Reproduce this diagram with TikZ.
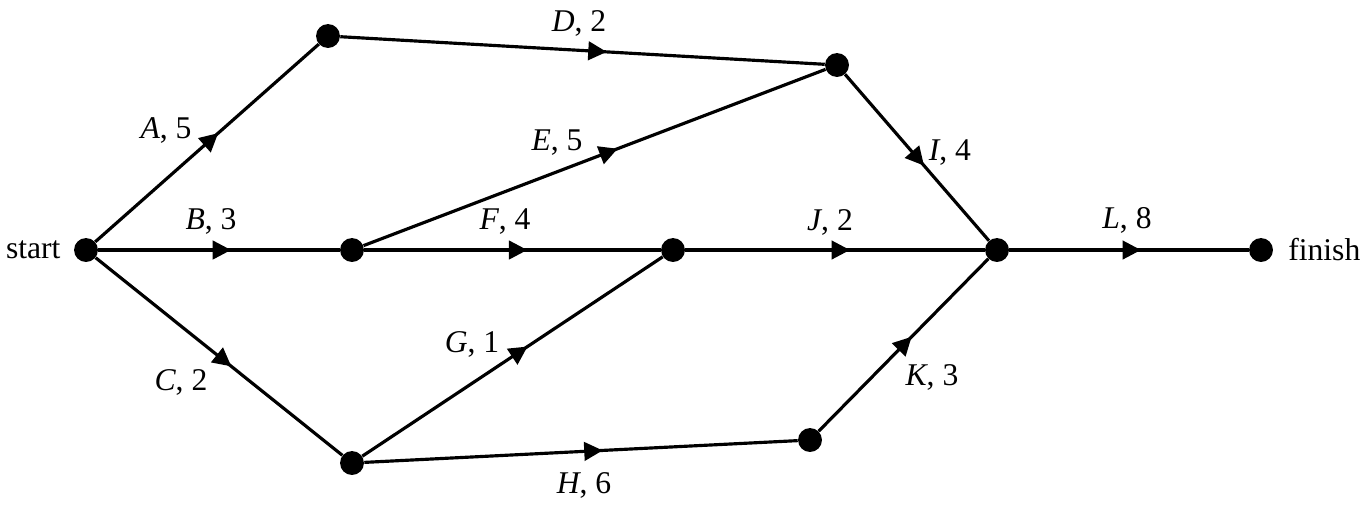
\documentclass[tikz,border=0pt]{standalone}
\usepackage{fontspec}
\setmainfont{Liberation Serif}
\usetikzlibrary{arrows.meta,decorations.markings,positioning}
\begin{document}
\begin{tikzpicture}[x=0.02cm,y=-0.02cm,
	dot/.style={circle,fill=black,inner sep=0pt,minimum size=13.6pt},
	act/.style={line width=1.8pt,postaction={decorate},
		decoration={markings,mark=at position 0.55 with {\arrow{Triangle[length=10.5pt,width=10.5pt]}}}},
	txt/.style={font=\fontsize{18}{21}\selectfont},
	lbl/.style={txt,anchor=base}]
	\useasboundingbox (0,0) rectangle (1366,505);
	
	% events
	\node[dot] at (86,250) (start){};
	\node[dot] at (328,36) (v1){};
	\node[dot] at (837,65) (v2){};
	\node[dot] at (352,250) (v3){};
	\node[dot] at (673,250) (v4){};
	\node[dot] at (997,250) (v5){};
	\node[dot] at (1261,250) (finish){};
	\node[dot] at (352,463) (v6){};
	\node[dot] at (810,440) (v7){};
	\node[txt,left=4pt of start] (start_lbl){start};
	\node[txt,right=5pt of finish] (finish_lbl){finish};
	
	% activities
	\draw[act] (start) -- (v1);
	\draw[act] (start) -- (v3);
	\draw[act] (start) -- (v6);
	\draw[act] (v1) -- (v2);
	\draw[act] (v3) -- (v2);
	\draw[act] (v3) -- (v4);
	\draw[act] (v6) -- (v4);
	\draw[act] (v6) -- (v7);
	\draw[act] (v2) -- (v5);
	\draw[act] (v4) -- (v5);
	\draw[act] (v7) -- (v5);
	\draw[act] (v5) -- (finish);
	
	% labels
	\node[lbl] at (166,138) (labA){\textit{A}, 5};
	\node[lbl] at (211,229) (labB){\textit{B}, 3};
	\node[lbl] at (181,390) (labC){\textit{C}, 2};
	\node[lbl] at (579,31) (labD){\textit{D}, 2};
	\node[lbl] at (557,150) (labE){\textit{E}, 5};
	\node[lbl] at (505,229) (labF){\textit{F}, 4};
	\node[lbl] at (472,352) (labG){\textit{G}, 1};
	\node[lbl] at (584,493) (labH){\textit{H}, 6};
	\node[lbl] at (950,160) (labI){\textit{I}, 4};
	\node[lbl] at (830,230) (labJ){\textit{J}, 2};
	\node[lbl] at (932,385) (labK){\textit{K}, 3};
	\node[lbl] at (1127,228) (labL){\textit{L}, 8};
\end{tikzpicture}
\end{document}
